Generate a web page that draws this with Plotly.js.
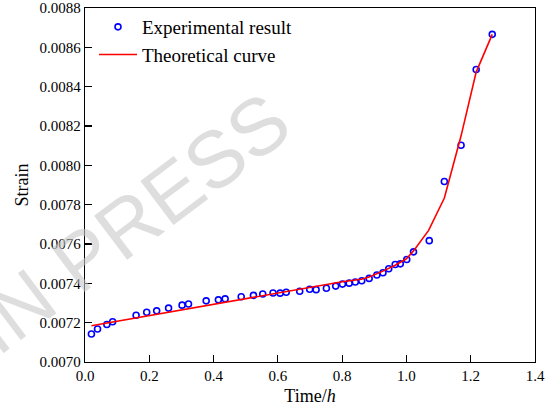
<!DOCTYPE html>
<html>
<head>
<meta charset="utf-8">
<script src="https://cdn.plot.ly/plotly-3.0.1.min.js"></script>
<style>html,body{margin:0;padding:0;background:#fff;}#chart{width:550px;height:416px;}</style>
</head>
<body>
<div id="chart"></div>
<script>
// Experimental data (time in h, strain)
const expTime = [0.020, 0.039, 0.068, 0.086, 0.159, 0.192, 0.223, 0.260, 0.302, 0.322,
  0.377, 0.415, 0.436, 0.486, 0.524, 0.553, 0.585, 0.607, 0.626, 0.668,
  0.699, 0.719, 0.751, 0.780, 0.801, 0.822, 0.841, 0.861, 0.884, 0.908,
  0.927, 0.945, 0.965, 0.981, 1.001, 1.022, 1.071, 1.118, 1.170, 1.217, 1.267];
const expStrain = [0.007142, 0.007168, 0.007191, 0.007205, 0.007238, 0.007253, 0.007260, 0.007274, 0.007289, 0.007295,
  0.007311, 0.007316, 0.007321, 0.007332, 0.007339, 0.007346, 0.007351, 0.007350, 0.007355, 0.007360,
  0.007370, 0.007368, 0.007375, 0.007386, 0.007396, 0.007401, 0.007407, 0.007413, 0.007425, 0.007442,
  0.007454, 0.007474, 0.007496, 0.007499, 0.007521, 0.007560, 0.007617, 0.007918, 0.008102, 0.008487, 0.008666];
// Theoretical curve
const theoTime = [0.020, 0.800, 0.860, 0.884, 0.927, 0.965, 1.000, 1.022, 1.069, 1.118, 1.170, 1.217, 1.267];
const theoStrain = [0.007184, 0.007408, 0.007421, 0.007432, 0.007462, 0.007492, 0.007525, 0.007565, 0.007669, 0.007834, 0.008150, 0.008474, 0.008666];
const xTicks = [0, 0.2, 0.4, 0.6, 0.8, 1.0, 1.2, 1.4];
const yTicks = [0.0070, 0.0072, 0.0074, 0.0076, 0.0078, 0.0080, 0.0082, 0.0084, 0.0086, 0.0088];

const serif = "Times New Roman, Liberation Serif, DejaVu Serif, serif";
const traces = [
  {x: expTime, y: expStrain, type: 'scatter', mode: 'markers', name: 'Experimental result',
   marker: {symbol: 'circle-open', size: 6, color: '#0000ff', line: {width: 1.6, color: '#0000ff'}}},
  {x: theoTime, y: theoStrain, type: 'scatter', mode: 'lines', name: 'Theoretical curve',
   line: {color: '#ff0000', width: 1.6}}
];
const axisCommon = {
  showgrid: false, zeroline: false, showline: true, mirror: true,
  linecolor: '#000', linewidth: 1.2, ticks: 'inside', ticklen: 7, tickwidth: 1.2, tickcolor: '#000',
  tickfont: {family: serif, size: 15, color: '#000'}, ticklabeloverflow: 'allow'
};
const layout = {
  width: 550, height: 416,
  margin: {l: 85, r: 15, t: 8, b: 54},
  paper_bgcolor: '#fff', plot_bgcolor: '#fff',
  font: {family: serif, color: '#000'},
  showlegend: true,
  legend: {x: 0.02, y: 1.0, xanchor: 'left', yanchor: 'top', bgcolor: 'rgba(0,0,0,0)',
    font: {family: serif, size: 19, color: '#000'}, itemwidth: 38, tracegroupgap: 0},
  xaxis: Object.assign({}, axisCommon, {range: [0, 1.4], tickvals: xTicks, tickformat: '.1f',
    title: {text: 'Time/<i>h</i>', font: {family: serif, size: 18, color: '#000'}, standoff: 6}}),
  yaxis: Object.assign({}, axisCommon, {range: [0.0070, 0.0088], tickvals: yTicks, tickformat: '.4f',
    title: {text: 'Strain', font: {family: serif, size: 18, color: '#000'}, standoff: 6}}),
  annotations: [{
    text: 'IN PRESS', xref: 'paper', yref: 'paper', x: 0.1, y: 0.39,
    xanchor: 'center', yanchor: 'middle', showarrow: false, textangle: -37,
    font: {family: 'Liberation Sans, Arial, sans-serif', size: 80, color: 'rgba(200,200,200,0.6)'}
  }]
};
Plotly.newPlot('chart', traces, layout, {staticPlot: true, displayModeBar: false});
</script>
</body>
</html>
